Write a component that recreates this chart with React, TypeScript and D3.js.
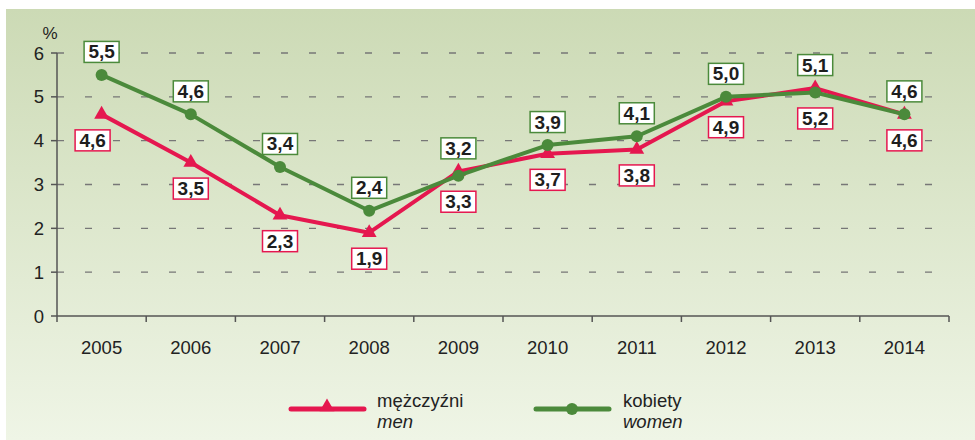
import React from "react";
import * as d3 from "d3";

const years = ["2005", "2006", "2007", "2008", "2009", "2010", "2011", "2012", "2013", "2014"];
const men = [4.6, 3.5, 2.3, 1.9, 3.3, 3.7, 3.8, 4.9, 5.2, 4.6];
const women = [5.5, 4.6, 3.4, 2.4, 3.2, 3.9, 4.1, 5.0, 5.1, 4.6];
// label text as printed in the chart (2013 labels printed swapped in source)
const menLabels = ["4,6", "3,5", "2,3", "1,9", "3,3", "3,7", "3,8", "4,9", "5,2", "4,6"];
const womenLabels = ["5,5", "4,6", "3,4", "2,4", "3,2", "3,9", "4,1", "5,0", "5,1", "4,6"];
const yTicks = [0, 1, 2, 3, 4, 5, 6];

const W = 975;
const H = 440;
const RED = "#e5174f";
const GREEN = "#4b8a3b";
const FONT = "'Liberation Sans', Arial, sans-serif";

export default function App() {
  const x = d3.scaleBand<string>().domain(years).range([57, 949]);
  const y = d3.scaleLinear().domain([0, 6]).range([316, 53]);
  const cx = (d: string) => (x(d) as number) + x.bandwidth() / 2;

  const line = d3
    .line<number>()
    .x((_, i) => cx(years[i]))
    .y((v) => y(v));

  const tri = d3.symbol().type(d3.symbolTriangle).size(95)();

  const boxW = 35;
  const boxH = 21;

  const label = (
    text: string,
    xc: number,
    yc: number,
    color: string,
    key: string
  ) => (
    <g key={key}>
      <rect
        x={xc - boxW / 2}
        y={yc - boxH / 2}
        width={boxW}
        height={boxH}
        fill="#ffffff"
        stroke={color}
        strokeWidth={1.5}
      />
      <text
        x={xc}
        y={yc + 6.5}
        textAnchor="middle"
        fontFamily={FONT}
        fontWeight="bold"
        fontSize={19}
        fill="#1e1e1e"
      >
        {text}
      </text>
    </g>
  );

  const xTickPositions = years.map((d) => x(d) as number).concat([949]);

  return (
    <svg
      width={W}
      height={H}
      style={{ position: "absolute", left: 0, top: 0 }}
      fontFamily={FONT}
    >
      <defs>
        <linearGradient id="bg" x1="0" y1="0" x2="0" y2="1">
          <stop offset="0%" stopColor="#ccdab5" />
          <stop offset="100%" stopColor="#eff5e6" />
        </linearGradient>
      </defs>
      <rect x={0} y={0} width={W} height={H} fill="#ffffff" />
      <rect x={6} y={9} width={W - 6} height={H - 9} fill="url(#bg)" />

      {/* gridlines */}
      {yTicks
        .filter((t) => t > 0)
        .map((t) => (
          <line
            key={"g" + t}
            x1={57}
            x2={949}
            y1={y(t)}
            y2={y(t)}
            stroke="#777"
            strokeWidth={1.4}
            strokeDasharray="7,21"
            strokeDashoffset={-28}
          />
        ))}

      {/* y axis */}
      <line x1={57} x2={57} y1={53} y2={316} stroke="#555" strokeWidth={1.5} />
      {yTicks.map((t) => (
        <g key={"yt" + t}>
          <line x1={51} x2={57} y1={y(t)} y2={y(t)} stroke="#555" strokeWidth={1.5} />
          <text
            x={44}
            y={y(t) + 6.5}
            textAnchor="end"
            fontSize={18.5}
            fill="#222"
          >
            {t}
          </text>
        </g>
      ))}
      <text x={50} y={39} textAnchor="middle" fontSize={17} fill="#222">
        %
      </text>

      {/* x axis */}
      <line x1={57} x2={949} y1={316} y2={316} stroke="#555" strokeWidth={1.5} />
      {xTickPositions.map((p, i) => (
        <line key={"xt" + i} x1={p} x2={p} y1={316} y2={322} stroke="#555" strokeWidth={1.5} />
      ))}
      {years.map((d) => (
        <text
          key={"xl" + d}
          x={cx(d)}
          y={354}
          textAnchor="middle"
          fontSize={18.5}
          fill="#222"
        >
          {d}
        </text>
      ))}

      {/* men line */}
      <path d={line(men) || ""} fill="none" stroke={RED} strokeWidth={4} strokeLinejoin="round" />
      {men.map((v, i) => (
        <path
          key={"mt" + i}
          d={tri || ""}
          transform={`translate(${cx(years[i])},${y(v)})`}
          fill={RED}
        />
      ))}

      {/* women line */}
      <path d={line(women) || ""} fill="none" stroke={GREEN} strokeWidth={4} strokeLinejoin="round" />
      {women.map((v, i) => (
        <circle key={"wc" + i} cx={cx(years[i])} cy={y(v)} r={6} fill={GREEN} />
      ))}

      {/* labels */}
      {years.map((d, i) => {
        const top = Math.min(y(men[i]), y(women[i]));
        const bot = Math.max(y(men[i]), y(women[i]));
        return (
          <g key={"lab" + d}>
            {label(womenLabels[i], cx(d), top - 23, GREEN, "w" + d)}
            {label(menLabels[i], cx(d) - (i === 0 ? 9 : 0), bot + 26, RED, "m" + d)}
          </g>
        );
      })}

      {/* legend */}
      <line x1={291} x2={364} y1={409} y2={409} stroke={RED} strokeWidth={5} strokeLinecap="round" />
      <path d={tri || ""} transform="translate(327,407)" fill={RED} />
      <text x={377} y={407} fontSize={18.5} fill="#222">
        mężczyźni
      </text>
      <text x={377} y={428} fontSize={18.5} fontStyle="italic" fill="#222">
        men
      </text>

      <line x1={536} x2={609} y1={409} y2={409} stroke={GREEN} strokeWidth={5} strokeLinecap="round" />
      <circle cx={572} cy={409} r={6} fill={GREEN} />
      <text x={623} y={407} fontSize={18.5} fill="#222">
        kobiety
      </text>
      <text x={623} y={428} fontSize={18.5} fontStyle="italic" fill="#222">
        women
      </text>
    </svg>
  );
}
